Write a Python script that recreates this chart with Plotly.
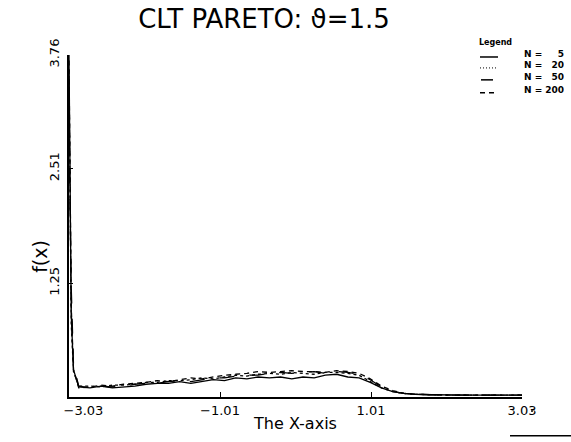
import plotly.graph_objects as go

# ---- data ----
x_vals = [-3.03, -3.02, -3.00, -2.97, -2.90, -2.75, -2.60, -2.45, -2.30, -2.15,
          -2.00, -1.85, -1.70, -1.55, -1.40, -1.25, -1.10, -0.95, -0.80, -0.65,
          -0.50, -0.35, -0.20, -0.05, 0.10, 0.25, 0.40, 0.55, 0.70, 0.85,
          1.00, 1.15, 1.30, 1.45, 1.60, 1.80, 2.10, 2.40, 2.70, 3.03]

f_n5 = [3.76, 2.40, 0.90, 0.30, 0.11, 0.10, 0.12, 0.10, 0.11, 0.12,
        0.14, 0.15, 0.15, 0.17, 0.15, 0.17, 0.19, 0.18, 0.21, 0.20,
        0.22, 0.21, 0.22, 0.20, 0.22, 0.21, 0.24, 0.25, 0.22, 0.21,
        0.16, 0.10, 0.06, 0.04, 0.03, 0.025, 0.02, 0.02, 0.02, 0.02]

f_n20 = [3.60, 2.20, 0.80, 0.28, 0.12, 0.12, 0.11, 0.13, 0.13, 0.14,
         0.16, 0.16, 0.18, 0.18, 0.19, 0.21, 0.20, 0.22, 0.24, 0.23,
         0.25, 0.26, 0.25, 0.27, 0.26, 0.25, 0.27, 0.27, 0.26, 0.24,
         0.17, 0.10, 0.06, 0.04, 0.03, 0.025, 0.02, 0.02, 0.02, 0.02]

f_n50 = [3.50, 2.30, 1.20, 0.35, 0.12, 0.10, 0.12, 0.11, 0.12, 0.14,
         0.15, 0.15, 0.17, 0.18, 0.17, 0.19, 0.21, 0.21, 0.23, 0.24,
         0.24, 0.26, 0.27, 0.26, 0.27, 0.28, 0.26, 0.28, 0.27, 0.25,
         0.19, 0.11, 0.06, 0.04, 0.03, 0.025, 0.02, 0.02, 0.02, 0.02]

f_n200 = [3.70, 2.50, 1.00, 0.30, 0.10, 0.11, 0.13, 0.12, 0.14, 0.15,
          0.16, 0.18, 0.17, 0.19, 0.21, 0.20, 0.22, 0.24, 0.25, 0.26,
          0.28, 0.27, 0.28, 0.29, 0.28, 0.28, 0.27, 0.29, 0.28, 0.26,
          0.20, 0.12, 0.07, 0.04, 0.03, 0.025, 0.02, 0.02, 0.02, 0.02]

series_names = ["N =   5", "N =  20", "N =  50", "N = 200"]
series_nums = ["5", "20", "50", "200"]
series_vals = [f_n5, f_n20, f_n50, f_n200]
series_dash = ["solid", "dot", "longdash", "5px,4px"]

x_ticks = [-3.03, -1.01, 1.01, 3.03]
x_ticktext = ["\u00a0\u00a0\u00a0\u00a0\u00a0\u00a0\u00a0−3.03", "−1.01", "1.01", "3.03"]
y_ticks = [1.25, 2.51, 3.76]
y_ticktext = ["1.25", "2.51", "3.76"]

# ---- layout geometry (pixels) ----
W, H = 571, 442
L, R, T, B = 69, 49, 55, 43
PW, PH = W - L - R, H - T - B


def px(xp):
    return (xp - L) / PW


def py(yp):
    return (H - B - yp) / PH


FONT = "DejaVu Sans"

fig = go.Figure()
for name, vals, dash in zip(series_names, series_vals, series_dash):
    fig.add_trace(go.Scatter(x=x_vals, y=vals, mode="lines", name=name,
                             line=dict(color="black", width=1.3, dash=dash),
                             showlegend=False))

fig.update_layout(
    width=W, height=H,
    margin=dict(l=L, r=R, t=T, b=B, pad=0),
    paper_bgcolor="white", plot_bgcolor="white",
    title=dict(text="CLT PARETO: ϑ=1.5", x=264 / W, xanchor="center",
               y=1 - 19 / H, yanchor="middle",
               font=dict(family=FONT, size=26, color="black")),
    xaxis=dict(range=[-3.03, 3.03], tickvals=x_ticks, ticktext=x_ticktext,
               showline=True, linecolor="black", linewidth=2,
               ticks="inside", ticklen=5, tickcolor="black",
               showgrid=False, zeroline=False,
               tickfont=dict(family=FONT, size=13, color="black"),
               title=dict(text="The X-axis", standoff=1,
                          font=dict(family=FONT, size=16, color="black"))),
    yaxis=dict(range=[0, 3.76], tickvals=y_ticks, ticktext=y_ticktext,
               showline=True, linecolor="black", linewidth=1.5,
               ticks="inside", ticklen=4, tickcolor="black",
               tickangle=-90, ticklabelstandoff=3,
               showgrid=False, zeroline=False,
               tickfont=dict(family=FONT, size=13, color="black")),
)

# y-axis title
fig.add_annotation(text="f(x)", x=px(40), y=py(258), xref="paper", yref="paper",
                   xanchor="center", yanchor="middle",
                   textangle=-90, showarrow=False,
                   font=dict(family=FONT, size=19, color="black"))

# compact legend
fig.add_annotation(text="<b>Legend</b>", x=px(477), y=py(42), xref="paper", yref="paper",
                   xanchor="left", yanchor="middle", showarrow=False,
                   font=dict(family=FONT, size=8, color="black"))
legend_y = [56, 67, 79, 92]
for i, (num, dash) in enumerate(zip(series_nums, series_dash)):
    yy = legend_y[i]
    if dash == "longdash":
        x0, x1, d, w = 481, 493, "solid", 1.5
    elif dash == "dot":
        x0, x1, d, w = 480, 498, "1px,2px", 1
    else:
        x0, x1, d, w = 480, 498, dash, 1.5
    fig.add_shape(type="line", xref="paper", yref="paper",
                  x0=px(x0), x1=px(x1), y0=py(yy + 1), y1=py(yy + 1),
                  line=dict(color="black", width=w, dash=d))
    fig.add_annotation(text="<b>N =</b>", x=px(522), y=py(yy - 2), xref="paper", yref="paper",
                       xanchor="left", yanchor="middle", showarrow=False,
                       font=dict(family=FONT, size=9, color="black"))
    fig.add_annotation(text="<b>" + num + "</b>", x=px(542), y=py(yy - 2), xref="paper", yref="paper",
                       xanchor="left", yanchor="middle", showarrow=False,
                       width=20, align="right",
                       font=dict(family=FONT, size=9, color="black"))

# stray marks at lower right of the original
fig.add_shape(type="line", xref="paper", yref="paper",
              x0=px(510), x1=px(571), y0=py(438), y1=py(438),
              line=dict(color="black", width=1.5))
fig.add_shape(type="line", xref="paper", yref="paper",
              x0=px(531), x1=px(533), y0=py(413), y1=py(413),
              line=dict(color="black", width=1.5))

fig.write_html("out.html", config={"displayModeBar": False},
               post_script="document.body.style.margin='0';")
